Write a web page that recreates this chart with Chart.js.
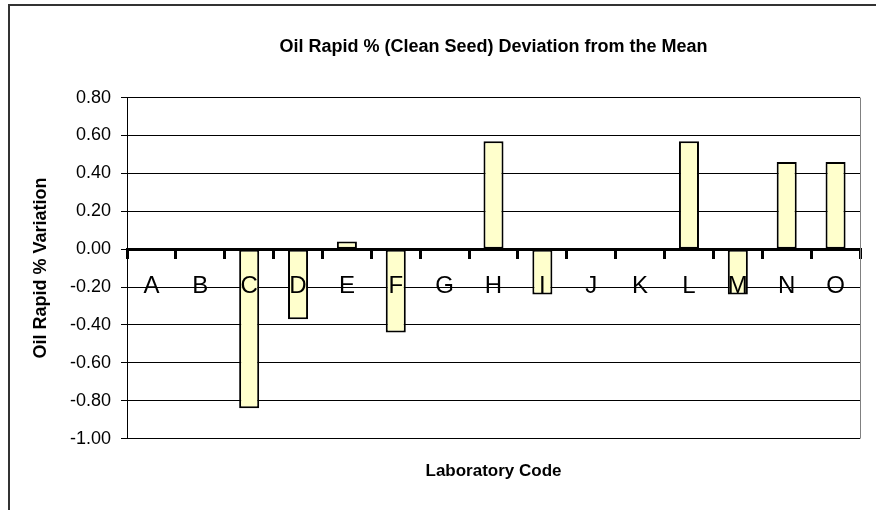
<!DOCTYPE html>
<html>
<head>
<meta charset="utf-8">
<script src="https://cdn.jsdelivr.net/npm/chart.js@4/dist/chart.umd.min.js"></script>
<style>
  body { margin: 0; background: #fff; }
  #wrap { position: relative; width: 876px; height: 510px; overflow: hidden; }
  #frame { position: absolute; left: 8px; top: 4px; width: 900px; height: 540px;
           border-top: 2px solid #333; border-left: 2px solid #333; pointer-events: none; }
  canvas { position: absolute; left: 0; top: 0; }
</style>
</head>
<body>
<div id="wrap">
  <div id="frame"></div>
  <canvas id="chart" width="876" height="510"></canvas>
</div>
<script>
// Data
const labCodes = ["A", "B", "C", "D", "E", "F", "G", "H", "I", "J", "K", "L", "M", "N", "O"];
const deviation = [0, 0, -0.84, -0.37, 0.04, -0.44, 0, 0.57, -0.24, 0, 0, 0.57, -0.24, 0.46, 0.46];
const yTicks = { min: -1, max: 0.8, step: 0.2 };

const FONT = "'Liberation Sans', Arial, sans-serif";

// grey right edge of the plot area
const plotEdge = {
  id: "plotEdge",
  afterDraw(chart) {
    const { ctx, chartArea } = chart;
    ctx.save();
    ctx.strokeStyle = "#808080";
    ctx.lineWidth = 1;
    ctx.beginPath();
    ctx.moveTo(Math.round(chartArea.right) + 0.5, chartArea.top);
    ctx.lineTo(Math.round(chartArea.right) + 0.5, chartArea.bottom);
    ctx.stroke();
    ctx.restore();
  }
};

new Chart(document.getElementById("chart").getContext("2d"), {
  type: "bar",
  data: {
    labels: labCodes,
    datasets: [{
      data: deviation,
      backgroundColor: "#FFFFCC",
      borderColor: "#000",
      borderWidth: 2,
      borderSkipped: false,
      categoryPercentage: 1,
      barPercentage: 0.41
    }]
  },
  options: {
    responsive: false,
    animation: false,
    devicePixelRatio: 1,
    layout: { padding: { left: 0, right: 16, top: 0, bottom: 28 } },
    plugins: {
      legend: { display: false },
      tooltip: { enabled: false },
      title: {
        display: true,
        text: "Oil Rapid % (Clean Seed) Deviation from the Mean",
        fullSize: false,
        color: "#000",
        font: { family: FONT, size: 18, weight: "bold", lineHeight: 1.2 },
        padding: { top: 36, bottom: 40 }
      }
    },
    scales: {
      x: {
        position: { y: 0 },
        offset: true,
        afterFit(scale) { scale.height = 0; },
        grid: { display: true, drawOnChartArea: false, drawTicks: true, tickLength: 8, lineWidth: 3, color: "#000", offset: true },
        border: { display: true, color: "#000", width: 3, z: 1 },
        ticks: { color: "#000", font: { family: FONT, size: 24 }, padding: 15, maxRotation: 0, autoSkip: false, z: 1 }
      },
      x2: {
        type: "category",
        position: "bottom",
        grid: { display: false, drawTicks: false },
        border: { display: false },
        ticks: { display: false },
        title: {
          display: true,
          text: "Laboratory Code",
          color: "#000",
          font: { family: FONT, size: 17, weight: "bold", lineHeight: 1.2 },
          padding: { top: 23, bottom: 0 }
        }
      },
      y: {
        min: yTicks.min,
        max: yTicks.max,
        afterFit(scale) { scale.width = 127; },
        grid: { color: "#000", lineWidth: 1, drawTicks: true, tickLength: 6 },
        border: { display: true, color: "#000", width: 1 },
        ticks: {
          stepSize: yTicks.step,
          color: "#000",
          padding: 10,
          font: { family: FONT, size: 18 },
          callback: v => (Math.abs(v) < 1e-9 ? 0 : v).toFixed(2)
        },
        title: {
          display: true,
          text: "Oil Rapid % Variation",
          color: "#000",
          font: { family: FONT, size: 18, weight: "bold", lineHeight: 1.2 },
          padding: { top: 30, bottom: 0 }
        }
      }
    }
  },
  plugins: [plotEdge]
});
</script>
</body>
</html>
